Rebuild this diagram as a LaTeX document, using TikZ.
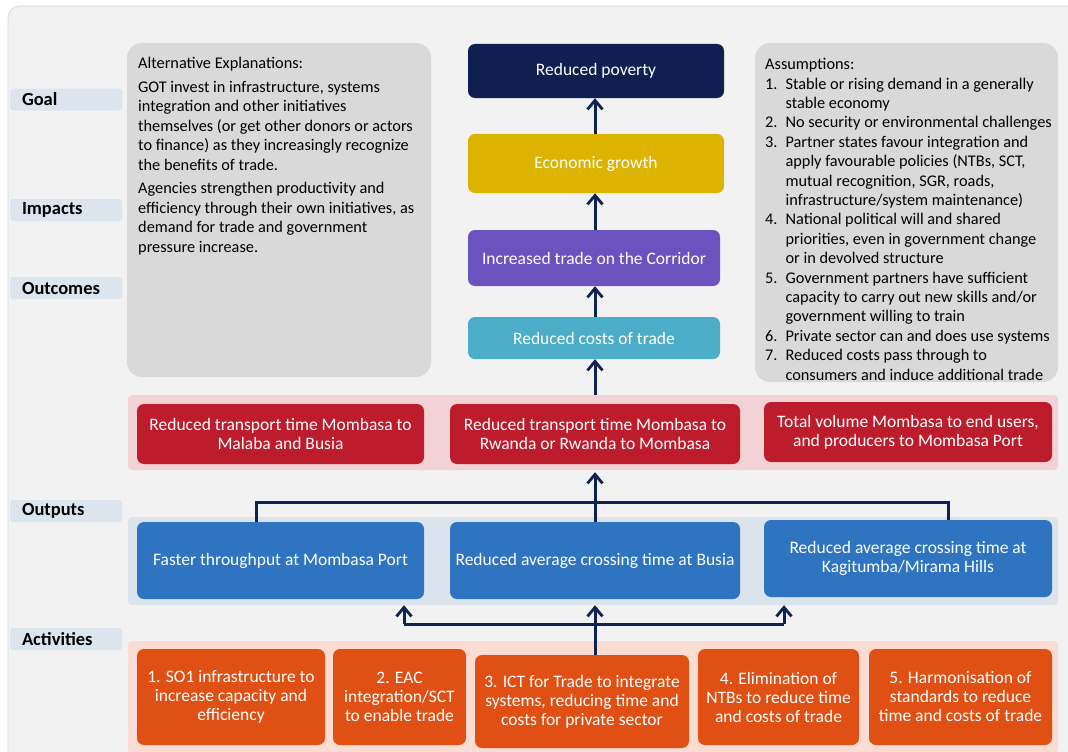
\documentclass[tikz,border=0pt]{standalone}
\usepackage{fontspec}
\setmainfont{Carlito}
\usetikzlibrary{arrows.meta}
\definecolor{bgc}{HTML}{F2F2F2}
\definecolor{framec}{HTML}{DADADA}
\definecolor{lblc}{HTML}{DCE4EE}
\definecolor{grayc}{HTML}{D9D9D9}
\definecolor{navyc}{HTML}{0F2050}
\definecolor{goldc}{HTML}{DBB300}
\definecolor{purplec}{HTML}{6A53BE}
\definecolor{tealc}{HTML}{4BADC7}
\definecolor{redband}{HTML}{F3D2D5}
\definecolor{redc}{HTML}{BC1C2C}
\definecolor{blueband}{HTML}{DBE3EC}
\definecolor{bluec}{HTML}{2E74C0}
\definecolor{orangeband}{HTML}{FADCD2}
\definecolor{orangec}{HTML}{E05014}
\definecolor{arrowc}{HTML}{0F2254}
\begin{document}
\begin{tikzpicture}[x=1pt,y=-1pt,
  box/.style={rounded corners=7pt, text=white, align=center, inner sep=0pt,
    font=\fontsize{17.5}{19}\selectfont},
  band/.style={rounded corners=4pt, inner sep=0pt, minimum width=930},
  lbl/.style={fill=lblc, rounded corners=3pt, minimum height=22, text width=88,
    inner xsep=12pt, inner ysep=0pt, align=left, font=\fontsize{18.5}{20}\selectfont\bfseries},
  graybox/.style={fill=grayc, rounded corners=15pt, inner sep=0pt},
  graytext/.style={inner sep=0pt, align=left, font=\fontsize{16.3}{19.4}\selectfont},
  conn/.style={draw=arrowc, line width=3pt},
  arr/.style={conn, -{Straight Barb[length=9pt,width=15pt,line width=2.8pt]}}]
\useasboundingbox (0,0) rectangle (1068,752);
\clip (0,0) rectangle (1068,752);
\fill[white] (0,0) rectangle (1068,752);
\draw[fill=bgc, draw=framec, line width=0.8pt, rounded corners=12pt] (8,6) rectangle (1090,780);

% level labels
\node[lbl] (lgoal) at (66,99.5) {Goal};
\node[lbl] (limp) at (66,210) {Impacts};
\node[lbl] (lout) at (66,288) {Outcomes};
\node[lbl] (loutp) at (66,511) {Outputs};
\node[lbl] (lact) at (66,639) {Activities};

% gray side boxes
\node[graybox, minimum width=304, minimum height=334] (altbox) at (279,210) {};
\node[graytext, anchor=north west] (alt) at (138,57) {Alternative Explanations:\\[4.5pt]
GOT invest in infrastructure, systems\\
integration and other initiatives\\
themselves (or get other donors or actors\\
to finance) as they increasingly recognize\\
the benefits of trade.\\[4.5pt]
Agencies strengthen productivity and\\
efficiency through their own initiatives, as\\
demand for trade and government\\
pressure increase.};

\node[graybox, minimum width=303, minimum height=339] (asmbox) at (906.5,212.5) {};
\node[graytext, anchor=north west] (asm) at (765,56) {%
\begin{tabular}{@{}l@{\hspace{8pt}}l@{}}
\multicolumn{2}{@{}l@{}}{Assumptions:}\\
1. & Stable or rising demand in a generally\\
   & stable economy\\
2. & No security or environmental challenges\\
3. & Partner states favour integration and\\
   & apply favourable policies (NTBs, SCT,\\
   & mutual recognition, SGR, roads,\\
   & infrastructure/system maintenance)\\
4. & National political will and shared\\
   & priorities, even in government change\\
   & or in devolved structure\\
5. & Government partners have sufficient\\
   & capacity to carry out new skills and/or\\
   & government willing to train\\
6. & Private sector can and does use systems\\
7. & Reduced costs pass through to\\
   & consumers and induce additional trade
\end{tabular}};

% central chain
\node[box, fill=navyc, minimum width=256, minimum height=54] (pov) at (596,71) {Reduced poverty};
\node[box, fill=goldc, minimum width=256, minimum height=59] (eco) at (596,163.5) {Economic growth};
\node[box, fill=purplec, minimum width=252, minimum height=56] (inc) at (594,258) {Increased trade on the Corridor};
\node[box, fill=tealc, minimum width=252, minimum height=42] (rc) at (594,338) {Reduced costs of trade};
\coordinate (ax) at (595,0);

% bands
\node[band, fill=redband, minimum height=75] (rband) at (593,432.5) {};
\node[band, fill=blueband, minimum height=88] (bband) at (593,561) {};
\node[band, fill=orangeband, minimum height=112] (oband) at (593,697) {};

% red outcomes
\node[box, fill=redc, minimum width=287, minimum height=60] (r1) at (280.5,434) {Reduced transport time Mombasa to\\Malaba and Busia};
\node[box, fill=redc, minimum width=290, minimum height=60] (r2) at (595,434) {Reduced transport time Mombasa to\\Rwanda or Rwanda to Mombasa};
\node[box, fill=redc, minimum width=288, minimum height=60] (r3) at (908,432) {Total volume Mombasa to end users,\\and producers to Mombasa Port};

% blue outputs
\node[box, fill=bluec, minimum width=287, minimum height=77] (b1) at (280.5,560.5) {Faster throughput at Mombasa Port};
\node[box, fill=bluec, minimum width=290, minimum height=77] (b2) at (595,560.5) {Reduced average crossing time at Busia};
\node[box, fill=bluec, minimum width=288, minimum height=77] (b3) at (908,558.5) {Reduced average crossing time at\\Kagitumba/Mirama Hills};

% orange activities
\node[box, fill=orangec, minimum width=188, minimum height=96] (o1) at (231,697) {1. SO1 infrastructure to\\increase capacity and\\efficiency};
\node[box, fill=orangec, minimum width=133, minimum height=96] (o2) at (399.5,697) {2. EAC\\integration/SCT\\to enable trade};
\node[box, fill=orangec, minimum width=214, minimum height=93] (o3) at (582,701.5) {3. ICT for Trade to integrate\\systems, reducing time and\\costs for private sector};
\node[box, fill=orangec, minimum width=161, minimum height=96] (o4) at (778.5,697) {4. Elimination of\\NTBs to reduce time\\and costs of trade};
\node[box, fill=orangec, minimum width=183, minimum height=96] (o5) at (960.5,697) {5. Harmonisation of\\standards to reduce\\time and costs of trade};

% connectors: central chain
\draw[arr] (eco.north -| ax) -- (pov.south -| ax);
\draw[arr] (inc.north -| ax) -- (eco.south -| ax);
\draw[arr] (rc.north -| ax) -- (inc.south -| ax);
\draw[arr] (rband.north -| ax) -- (rc.south -| ax);

% outputs to outcomes
\coordinate (jl) at (256,502);
\coordinate (jr) at (948,502);
\draw[conn] (b1.north -| jl) -- (jl) -- (jr) -- (b3.north -| jr);
\draw[arr] (b2.north -| ax) -- ([yshift=-2pt]rband.south -| ax);

% activities to outputs
\coordinate (kl) at (404,624);
\coordinate (kr) at (784,624);
\draw[conn] (kl) -- (kr);
\draw[arr] (o3.north -| ax) -- (bband.south -| ax);
\draw[arr] (kl) -- (bband.south -| kl);
\draw[arr] (kr) -- (bband.south -| kr);
\end{tikzpicture}
\end{document}
